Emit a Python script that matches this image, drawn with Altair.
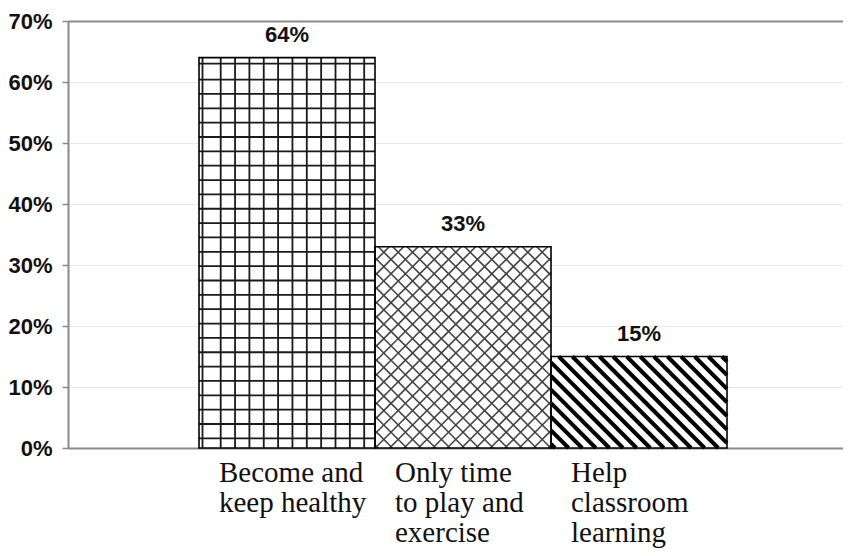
import altair as alt
import pandas as pd

# ---- data ----
categories = ["Become and\nkeep healthy", "Only time\nto play and\nexercise", "Help\nclassroom\nlearning"]
values = [64, 33, 15]
value_labels = ["64%", "33%", "15%"]
y_ticks = [0, 10, 20, 30, 40, 50, 60, 70]

# ---- layout / style constants ----
PLOT_W, PLOT_H = 775, 427
BAR_PX = 176.0
LEFT_GAP_PX = 131.0
Y_MAX = 70
PX_X = BAR_PX
PX_Y = PLOT_H / Y_MAX
x_domain = [-LEFT_GAP_PX / BAR_PX, (PLOT_W - LEFT_GAP_PX) / BAR_PX]

bars = pd.DataFrame({
    "x": [float(i) for i in range(len(values))],
    "x2": [float(i + 1) for i in range(len(values))],
    "xc": [i + 0.5 for i in range(len(values))],
    "y": [0.0] * len(values),
    "y2": values,
    "cat": categories,
    "lab": value_labels,
})


def seg(i, px0, py0, px1, py1):
    return {"x": i + px0 / PX_X, "x2": i + px1 / PX_X, "y": py0 / PX_Y, "y2": py1 / PX_Y}


def grid_pattern(i, v, step, xoffs, yoffs):
    W, H = PX_X, v * PX_Y
    rows = []
    xs = [xoffs[0]]
    px = xoffs[1]
    while px < W - 2:
        xs.append(px)
        px += step
    for px in xs:
        rows.append(seg(i, px, 0, px, H))
    ys = [yoffs[0]]
    py = yoffs[1]
    while py < H - 2:
        ys.append(py)
        py += step
    for d in ys:
        rows.append(seg(i, 0, H - d, W, H - d))
    return rows


def diag_pattern(i, v, step, slope, phase=0.0):
    W, H = PX_X, v * PX_Y
    rows = []
    if slope > 0:
        c = -W + phase
        while c < H:
            lo, hi = max(0.0, -c), min(W, H - c)
            if hi > lo:
                rows.append(seg(i, lo, lo + c, hi, hi + c))
            c += step
    else:
        c = phase
        while c < W + H:
            lo, hi = max(0.0, c - H), min(W, c)
            if hi > lo:
                rows.append(seg(i, lo, c - lo, hi, c - hi))
            c += step
    return rows


grid_df = pd.DataFrame(grid_pattern(0, values[0], 14.35, [3.5, 21.7], [6.0, 22.0]))
cross_df = pd.DataFrame(diag_pattern(1, values[1], 14.4, 1, 3.0) + diag_pattern(1, values[1], 14.4, -1, 3.0))
stripe_df = pd.DataFrame(diag_pattern(2, values[2], 13.6, -1, 4.0))

xscale = alt.Scale(domain=x_domain, nice=False, zero=False)
yscale = alt.Scale(domain=[0, Y_MAX], nice=False)
xaxis = alt.Axis(labels=False, ticks=False, grid=False, title=None,
                 domainColor="#8a8a8a", domainWidth=2)
yaxis = alt.Axis(
    values=y_ticks, title=None,
    labelExpr="datum.value + '%'",
    labelFont="Liberation Sans", labelFontWeight="bold", labelFontSize=22,
    labelColor="#111111", labelPadding=10,
    tickColor="#8a8a8a", tickSize=6, tickWidth=1.5,
    domainColor="#8a8a8a", domainWidth=2,
    gridColor=alt.condition("datum.value == 70", alt.value("#8a8a8a"), alt.value("#e9e9e9")),
    gridWidth=alt.condition("datum.value == 70", alt.value(2), alt.value(1)),
)


def X(f="x"):
    return alt.X(f, type="quantitative", scale=xscale, axis=xaxis)


def Y(f="y"):
    return alt.Y(f, type="quantitative", scale=yscale, axis=yaxis)


base_fill = alt.Chart(bars).mark_rect(fill="white", stroke=None).encode(
    x=X(), x2="x2", y=Y(), y2="y2")

grid_l = alt.Chart(grid_df).mark_rule(stroke="#1a1a1a", strokeWidth=1.8).encode(
    x=X(), x2="x2", y=Y(), y2="y2")
cross_l = alt.Chart(cross_df).mark_rule(stroke="#444444", strokeWidth=1.6).encode(
    x=X(), x2="x2", y=Y(), y2="y2")
stripe_l = alt.Chart(stripe_df).mark_rule(stroke="#000000", strokeWidth=4).encode(
    x=X(), x2="x2", y=Y(), y2="y2")

outline = alt.Chart(bars).mark_rect(fillOpacity=0, fill="white", stroke="#000000", strokeWidth=1.6).encode(
    x=X(), x2="x2", y=Y(), y2="y2")

val_text = alt.Chart(bars).mark_text(
    font="Liberation Sans", fontWeight="bold", fontSize=22, color="#111111",
    align="center", baseline="alphabetic", dy=-16,
).encode(x=X("xc"), y=Y("y2"), text="lab")

cat_text = alt.Chart(bars).mark_text(
    font="Liberation Serif", fontSize=29, color="#111111",
    align="left", baseline="alphabetic", dx=20, dy=34, lineBreak="\n", lineHeight=30,
).encode(x=X("x"), y=Y("y"), text="cat")

chart = alt.layer(
    base_fill, grid_l, cross_l, stripe_l, outline, val_text, cat_text
).properties(
    width=PLOT_W, height=PLOT_H,
    autosize=alt.AutoSizeParams(type="none"),
    padding={"left": 60, "top": 13, "right": 0, "bottom": 100},
    background="white",
).configure_view(stroke=None)

chart.save("out.html", embed_options={"renderer": "svg", "actions": False})
